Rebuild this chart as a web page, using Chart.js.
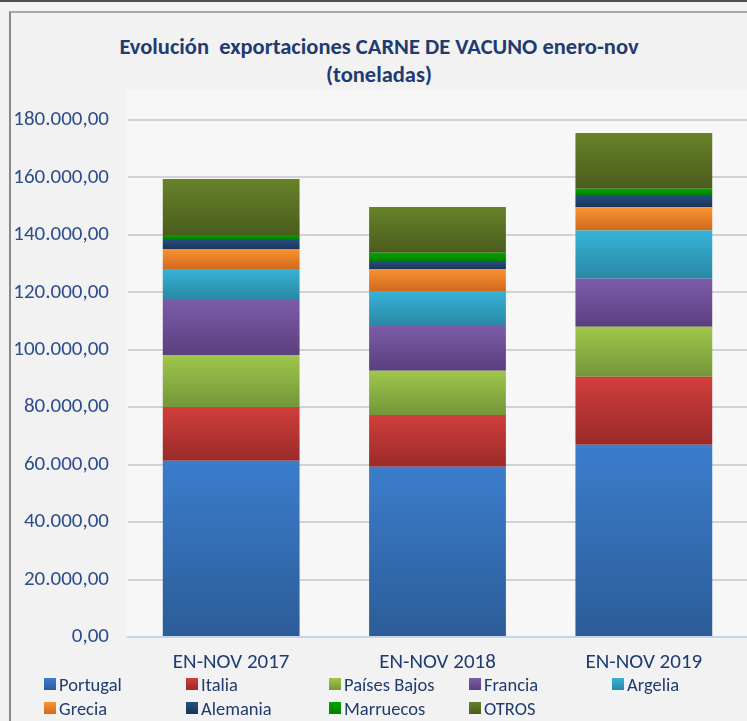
<!DOCTYPE html>
<html>
<head>
<meta charset="utf-8">
<script src="https://cdn.jsdelivr.net/npm/chart.js@4"></script>
<style>
  html, body { margin: 0; padding: 0; }
  body { width: 747px; height: 721px; background: #f2f2f2; position: relative; overflow: hidden;
         font-family: Carlito, "Liberation Sans", Arial, sans-serif; }
  #topline { position: absolute; left: 0; top: 0; width: 747px; height: 2px; background: #505050; }
  #frame { position: absolute; left: 9px; top: 11px; width: 760px; height: 730px;
           border-top: 2px solid #a8a8a8; border-left: 2px solid #8a8a8a; }
  #plotbg { position: absolute; left: 127px; top: 90px; width: 620px; height: 547px; background: #f7f7f7; }
  #wrap { position: absolute; left: 0; top: 0; width: 747px; height: 721px; }
  #title { position: absolute; left: 29px; width: 700px; top: 33px; text-align: center;
           color: #1f3b70; font-weight: bold; font-size: 22.5px; line-height: 28px; white-space: pre; }
  #legend { position: absolute; left: 0; top: 0; width: 747px; height: 721px; pointer-events: none; }
  .li { position: absolute; height: 22px; display: flex; align-items: center;
        color: #1f3b70; font-size: 18.5px; white-space: nowrap; }
  .li .box { width: 12px; height: 12px; margin-right: 3px; }
</style>
</head>
<body>
<div id="topline"></div>
<div id="frame"></div>
<div id="plotbg"></div>
<div id="title">Evolución  exportaciones CARNE DE VACUNO enero-nov
(toneladas)</div>
<div id="wrap"><canvas id="c" width="747" height="721"></canvas></div>
<div id="legend"></div>
<script>
const categories = ['EN-NOV 2017', 'EN-NOV 2018', 'EN-NOV 2019'];
const seriesNames = ['Portugal', 'Italia', 'Países Bajos', 'Francia', 'Argelia', 'Grecia', 'Alemania', 'Marruecos', 'OTROS'];
const portugal    = [61400, 59300, 66900];
const italia      = [18700, 18000, 23700];
const paisesBajos = [18100, 15400, 17400];
const francia     = [19500, 15900, 16700];
const argelia     = [10400, 11900, 16800];
const grecia      = [7000, 7600, 8100];
const alemania    = [3500, 2800, 4300];
const marruecos   = [1400, 2900, 2200];
const otros       = [19500, 15900, 19400];
const yTicks = [0, 20000, 40000, 60000, 80000, 100000, 120000, 140000, 160000, 180000];

const seriesValues = [portugal, italia, paisesBajos, francia, argelia, grecia, alemania, marruecos, otros];
const colorTop = ['#3b7dcc', '#d03f3c', '#9ec74b', '#7d5caa', '#36b3d8', '#fb9231', '#26507f', '#00a400', '#68822a'];
const colorBot = ['#2c5c98', '#9a2a29', '#74963a', '#5a3f7e', '#2a88a4', '#cf6a1f', '#1a355a', '#008200', '#4a5c1c'];

function fmt(v) {
  const s = Math.round(v).toString().replace(/\B(?=(\d{3})+(?!\d))/g, '.');
  return s + ',00';
}

function gradFor(di) {
  return function (ctx) {
    const chart = ctx.chart;
    const y = chart.scales && chart.scales.y;
    if (!chart.chartArea || !y || ctx.dataIndex === undefined) return colorTop[di];
    const i = ctx.dataIndex;
    let base = 0;
    for (let k = 0; k < di; k++) base += seriesValues[k][i];
    const top = base + seriesValues[di][i];
    const y0 = y.getPixelForValue(top), y1 = y.getPixelForValue(base);
    if (!isFinite(y0) || !isFinite(y1) || y0 === y1) return colorTop[di];
    const g = chart.ctx.createLinearGradient(0, y0, 0, y1);
    g.addColorStop(0, colorTop[di]);
    g.addColorStop(1, colorBot[di]);
    return g;
  };
}

const datasets = seriesNames.map((name, di) => ({
  label: name,
  data: seriesValues[di],
  backgroundColor: gradFor(di),
  borderWidth: 0,
  barPercentage: 0.663,
  categoryPercentage: 1.0
}));

const FONT = 'Carlito, "Liberation Sans", Arial, sans-serif';

new Chart(document.getElementById('c'), {
  type: 'bar',
  data: { labels: categories, datasets },
  options: {
    responsive: false,
    animation: false,
    layout: { padding: { top: 120, left: 0, right: 0, bottom: 0 } },
    plugins: { legend: { display: false }, title: { display: false }, tooltip: { enabled: false } },
    scales: {
      x: {
        stacked: true,
        grid: { display: false, drawTicks: false },
        border: { display: true, color: '#c4d4ea', width: 2 },
        ticks: { color: '#1f3b70', font: { family: FONT, size: 21 }, padding: 13 },
        afterFit: s => { s.height = 84; }
      },
      y: {
        stacked: true,
        min: 0, max: 180000,
        afterBuildTicks: s => { s.ticks = yTicks.map(v => ({ value: v })); },
        grid: { color: '#d2d2d2', lineWidth: 2, drawTicks: false },
        border: { display: false },
        ticks: { color: '#2e4d8c', font: { family: FONT, size: 21 }, padding: 19, callback: v => fmt(v) },
        afterFit: s => { s.width = 128; }
      }
    }
  }
});

// legend (grid layout as in the reference)
const legendPos = [
  [44, 684], [186, 684], [329, 684], [469, 684], [612, 684],
  [44, 708], [186, 708], [329, 708], [469, 708]
];
const lg = document.getElementById('legend');
seriesNames.forEach((name, di) => {
  const d = document.createElement('div');
  d.className = 'li';
  d.style.left = legendPos[di][0] + 'px';
  d.style.top = (legendPos[di][1] - 11) + 'px';
  const b = document.createElement('span');
  b.className = 'box';
  b.style.background = 'linear-gradient(' + colorTop[di] + ',' + colorBot[di] + ')';
  const t = document.createElement('span');
  t.textContent = name;
  d.appendChild(b); d.appendChild(t);
  lg.appendChild(d);
});
</script>
</body>
</html>
